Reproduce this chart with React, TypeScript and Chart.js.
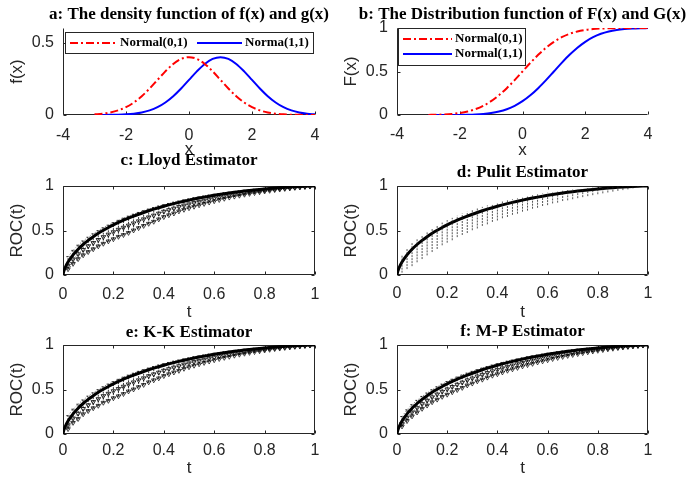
import React, { useEffect, useRef } from "react";
import { Chart, registerables } from "chart.js";
Chart.register(...registerables);

const SANS = "'Liberation Sans', Arial, sans-serif";
const SERIF = "'Liberation Serif', 'Times New Roman', serif";
const AXIS = "#262626";

// ---------- data: panels a & b ----------
const xGrid = [-3, -2.75, -2.5, -2.25, -2, -1.75, -1.5, -1.25, -1, -0.75, -0.5, -0.25, 0, 0.25, 0.5, 0.75, 1, 1.25, 1.5, 1.75, 2, 2.25, 2.5, 2.75, 3, 3.25, 3.5, 3.75, 4];
const densityN01 = [0.0044, 0.0091, 0.0175, 0.0317, 0.054, 0.0863, 0.1295, 0.1826, 0.242, 0.3011, 0.3521, 0.3867, 0.3989, 0.3867, 0.3521, 0.3011, 0.242, 0.1826, 0.1295, 0.0863, 0.054, 0.0317, 0.0175, 0.0091, 0.0044, 0.002, 0.0009, 0.0004, 0.0001];
const densityN11 = [0.0001, 0.0004, 0.0009, 0.002, 0.0044, 0.0091, 0.0175, 0.0317, 0.054, 0.0863, 0.1295, 0.1826, 0.242, 0.3011, 0.3521, 0.3867, 0.3989, 0.3867, 0.3521, 0.3011, 0.242, 0.1826, 0.1295, 0.0863, 0.054, 0.0317, 0.0175, 0.0091, 0.0044];
const cdfN01 = [0.0013, 0.003, 0.0062, 0.0122, 0.0228, 0.0401, 0.0668, 0.1056, 0.1587, 0.2266, 0.3085, 0.4013, 0.5, 0.5987, 0.6915, 0.7734, 0.8413, 0.8944, 0.9332, 0.9599, 0.9772, 0.9878, 0.9938, 0.997, 0.9987, 0.9994, 0.9998, 0.9999, 1.0];
const cdfN11 = [0.0, 0.0001, 0.0002, 0.0006, 0.0013, 0.003, 0.0062, 0.0122, 0.0228, 0.0401, 0.0668, 0.1056, 0.1587, 0.2266, 0.3085, 0.4013, 0.5, 0.5987, 0.6915, 0.7734, 0.8413, 0.8944, 0.9332, 0.9599, 0.9772, 0.9878, 0.9938, 0.997, 0.9987];
const xTicks = [-4, -2, 0, 2, 4];
const densityYTicks = [0, 0.5];
const cdfYTicks = [0, 0.5, 1];

// ---------- data: ROC panels ----------
const tTicks = [0, 0.2, 0.4, 0.6, 0.8, 1];
const rocYTicks = [0, 0.5, 1];
const barT = [0.02, 0.04, 0.06, 0.08, 0.1, 0.12, 0.14, 0.16, 0.18, 0.2, 0.22, 0.24, 0.26, 0.28, 0.3, 0.32, 0.34, 0.36, 0.38, 0.4, 0.42, 0.44, 0.46, 0.48, 0.5, 0.52, 0.54, 0.56, 0.58, 0.6, 0.62, 0.64, 0.66, 0.68, 0.7, 0.72, 0.74, 0.76, 0.78, 0.8, 0.82, 0.84, 0.86, 0.88, 0.9, 0.92, 0.94, 0.96, 0.98];
const barCenter = [0.146, 0.2264, 0.2895, 0.3427, 0.3891, 0.4305, 0.468, 0.5022, 0.5337, 0.5629, 0.5901, 0.6155, 0.6393, 0.6617, 0.6828, 0.7027, 0.7216, 0.7394, 0.7563, 0.7724, 0.7876, 0.8021, 0.8158, 0.8289, 0.8413, 0.8532, 0.8644, 0.8751, 0.8853, 0.895, 0.9041, 0.9128, 0.9211, 0.9289, 0.9363, 0.9433, 0.9498, 0.956, 0.9618, 0.9672, 0.9723, 0.977, 0.9813, 0.9852, 0.9887, 0.9919, 0.9947, 0.997, 0.9989];
const rocT = [0, 0.002, 0.005, 0.01, ...barT, 1];
const rocTrue = [0, 0.0302, 0.0575, 0.0924, ...barCenter, 1];

const lloydDown = [0.08, 0.1, 0.11, 0.12, 0.13, 0.14, 0.145, 0.15, 0.155, 0.16, 0.16, 0.165, 0.165, 0.16, 0.155, 0.15, 0.145, 0.14, 0.13, 0.12, 0.115, 0.11, 0.1, 0.095, 0.09, 0.085, 0.08, 0.075, 0.07, 0.065, 0.06, 0.055, 0.05, 0.047, 0.044, 0.04, 0.037, 0.034, 0.031, 0.028, 0.025, 0.022, 0.02, 0.017, 0.015, 0.012, 0.01, 0.007, 0.004];
const lloydUp = [0.06, 0.05, 0.045, 0.04, 0.035, 0.032, 0.03, 0.028, 0.026, 0.025, 0.024, 0.023, 0.022, 0.021, 0.02, 0.02, 0.019, 0.018, 0.018, 0.017, 0.016, 0.016, 0.015, 0.015, 0.014, 0.014, 0.013, 0.013, 0.012, 0.012, 0.011, 0.011, 0.01, 0.01, 0.009, 0.009, 0.008, 0.008, 0.007, 0.007, 0.006, 0.006, 0.005, 0.005, 0.004, 0.004, 0.003, 0.003, 0.002];
const pulitDown = [0.12, 0.16, 0.19, 0.2, 0.21, 0.21, 0.21, 0.21, 0.2, 0.2, 0.2, 0.19, 0.19, 0.19, 0.18, 0.18, 0.17, 0.17, 0.16, 0.16, 0.15, 0.15, 0.14, 0.14, 0.13, 0.13, 0.12, 0.12, 0.11, 0.11, 0.1, 0.1, 0.09, 0.09, 0.085, 0.08, 0.075, 0.07, 0.065, 0.06, 0.055, 0.05, 0.045, 0.04, 0.035, 0.03, 0.022, 0.015, 0.008];
const pulitUp = [0.08, 0.07, 0.07, 0.065, 0.06, 0.06, 0.058, 0.056, 0.055, 0.054, 0.052, 0.05, 0.05, 0.048, 0.046, 0.045, 0.044, 0.042, 0.04, 0.04, 0.038, 0.037, 0.036, 0.035, 0.034, 0.033, 0.032, 0.031, 0.03, 0.029, 0.028, 0.027, 0.026, 0.025, 0.024, 0.023, 0.022, 0.021, 0.02, 0.019, 0.018, 0.016, 0.014, 0.012, 0.01, 0.008, 0.006, 0.004, 0.002];
const kkDown = [0.09, 0.1, 0.12, 0.12, 0.13, 0.14, 0.15, 0.15, 0.16, 0.16, 0.165, 0.165, 0.16, 0.16, 0.155, 0.15, 0.14, 0.135, 0.13, 0.12, 0.115, 0.11, 0.105, 0.095, 0.09, 0.085, 0.08, 0.075, 0.07, 0.065, 0.06, 0.056, 0.052, 0.048, 0.044, 0.04, 0.037, 0.034, 0.031, 0.028, 0.025, 0.022, 0.02, 0.017, 0.015, 0.012, 0.01, 0.007, 0.004];
const kkUp = [0.06, 0.052, 0.045, 0.04, 0.036, 0.032, 0.03, 0.028, 0.027, 0.025, 0.024, 0.023, 0.022, 0.021, 0.021, 0.02, 0.019, 0.018, 0.018, 0.017, 0.016, 0.016, 0.015, 0.015, 0.014, 0.014, 0.013, 0.013, 0.012, 0.012, 0.011, 0.011, 0.01, 0.01, 0.009, 0.009, 0.008, 0.008, 0.007, 0.007, 0.006, 0.006, 0.005, 0.005, 0.004, 0.004, 0.003, 0.003, 0.002];
const mpDown = [0.06, 0.08, 0.09, 0.1, 0.105, 0.11, 0.11, 0.115, 0.115, 0.12, 0.12, 0.12, 0.12, 0.115, 0.115, 0.11, 0.11, 0.105, 0.1, 0.1, 0.095, 0.09, 0.088, 0.085, 0.08, 0.078, 0.075, 0.07, 0.068, 0.065, 0.06, 0.057, 0.054, 0.05, 0.047, 0.044, 0.04, 0.037, 0.034, 0.031, 0.028, 0.025, 0.022, 0.019, 0.016, 0.013, 0.01, 0.007, 0.004];
const mpUp = [0.05, 0.045, 0.04, 0.035, 0.033, 0.03, 0.029, 0.028, 0.027, 0.026, 0.025, 0.024, 0.023, 0.022, 0.021, 0.02, 0.019, 0.018, 0.018, 0.017, 0.016, 0.016, 0.015, 0.015, 0.014, 0.014, 0.013, 0.013, 0.012, 0.012, 0.011, 0.011, 0.01, 0.01, 0.009, 0.009, 0.008, 0.008, 0.007, 0.007, 0.006, 0.006, 0.005, 0.005, 0.004, 0.004, 0.003, 0.003, 0.002];

// ---------- helpers ----------
const pts = (xs: number[], ys: number[]) => xs.map((x, i) => ({ x, y: ys[i] }));
const lowerOf = (c: number[], d: number[], k = 1) => c.map((v, i) => v - k * d[i]);
const upperOf = (c: number[], u: number[]) => c.map((v, i) => v + u[i]);

function errorBars(ts: number[], center: number[], down: number[], up: number[], cap: number) {
  const out: any[] = [];
  ts.forEach((t, i) => {
    const lo = center[i] - down[i];
    const hi = center[i] + up[i];
    out.push({ x: t, y: lo }, { x: t, y: hi }, { x: t, y: null });
    if (cap > 0) {
      out.push({ x: t - cap, y: lo }, { x: t + cap, y: lo }, { x: t, y: null });
      out.push({ x: t - cap, y: hi }, { x: t + cap, y: hi }, { x: t, y: null });
    }
  });
  return out;
}

const line = (label: string, data: any[], color: string, width: number, dash: number[] = [], smooth = true) => ({
  label,
  data,
  showLine: true,
  borderColor: color,
  backgroundColor: color,
  borderWidth: width,
  borderDash: dash,
  pointRadius: 0,
  pointHoverRadius: 0,
  fill: false,
  cubicInterpolationMode: smooth ? "monotone" : "default",
  tension: 0,
});

const markerLine = (label: string, data: any[], color: string) => ({
  ...line(label, data, color, 1, [1, 2]),
  pointRadius: 2.6,
  pointStyle: "triangle",
  rotation: 180,
  pointBorderColor: color,
  pointBackgroundColor: "rgba(0,0,0,0)",
  pointBorderWidth: 1,
});

function rocDatasets(name: string, down: number[], up: number[], cap: number, barColor: string, barDash: number[], withCurves: boolean) {
  const ds: any[] = [line(name + " bounds", errorBars(barT, barCenter, down, up, cap), barColor, 1, barDash, false)];
  if (withCurves) {
    ds.push(markerLine(name + " lower", pts(barT, lowerOf(barCenter, down)), "rgba(0,0,0,0.7)"));
    ds.push(markerLine(name + " mean", pts(barT, lowerOf(barCenter, down, 0.5)), "rgba(0,0,0,0.8)"));
    ds.push(line(name + " upper", pts(barT, upperOf(barCenter, up)), "rgba(0,0,0,0.6)", 1, [1, 2]));
  }
  ds.push(line("True ROC", pts(rocT, rocTrue), "#000000", 3));
  return ds;
}

// ---------- plugins ----------
const framePlugin = {
  id: "frame",
  beforeDatasetsDraw(chart: any, _a: any, opts: any) {
    const { ctx, chartArea, scales } = chart;
    const L = Math.round(chartArea.left) + 0.5;
    const R = Math.round(chartArea.right) - 0.5;
    const T = Math.round(chartArea.top) + 0.5;
    const B = Math.round(chartArea.bottom) - 0.5;
    const boxed = !!opts.boxed;
    const tl = 3;
    ctx.save();
    ctx.strokeStyle = AXIS;
    ctx.lineWidth = 1;
    ctx.beginPath();
    if (boxed) {
      ctx.rect(L, T, R - L, B - T);
    } else {
      ctx.moveTo(L, T);
      ctx.lineTo(L, B);
      ctx.lineTo(R, B);
    }
    scales.x.ticks.forEach((tk: any) => {
      const px = Math.round(scales.x.getPixelForValue(tk.value)) + 0.5;
      ctx.moveTo(px, B);
      ctx.lineTo(px, B - tl);
      if (boxed) {
        ctx.moveTo(px, T);
        ctx.lineTo(px, T + tl);
      }
    });
    scales.y.ticks.forEach((tk: any) => {
      const py = Math.round(scales.y.getPixelForValue(tk.value)) + 0.5;
      ctx.moveTo(L, py);
      ctx.lineTo(L + tl, py);
      if (boxed) {
        ctx.moveTo(R, py);
        ctx.lineTo(R - tl, py);
      }
    });
    ctx.stroke();
    ctx.restore();
  },
};

const titlePlugin = {
  id: "panelTitle",
  afterDraw(chart: any, _a: any, opts: any) {
    if (!opts || !opts.text) return;
    const { ctx, chartArea } = chart;
    ctx.save();
    ctx.font = `bold ${opts.size}px ${SERIF}`;
    ctx.fillStyle = "#000000";
    ctx.textAlign = "center";
    ctx.textBaseline = "middle";
    ctx.fillText(opts.text, (chartArea.left + chartArea.right) / 2, opts.y);
    ctx.restore();
  },
};

const boxLegendPlugin = {
  id: "boxLegend",
  afterDraw(chart: any, _a: any, opts: any) {
    if (!opts || !opts.items) return;
    const { ctx } = chart;
    const b = opts.box;
    ctx.save();
    ctx.fillStyle = "#ffffff";
    ctx.fillRect(b.x, b.y, b.w, b.h);
    ctx.strokeStyle = AXIS;
    ctx.lineWidth = 1;
    ctx.strokeRect(b.x + 0.5, b.y + 0.5, b.w, b.h);
    opts.items.forEach((it: any, i: number) => {
      const ds = chart.data.datasets[i];
      ctx.strokeStyle = ds.borderColor;
      ctx.lineWidth = ds.borderWidth;
      ctx.setLineDash(ds.borderDash || []);
      ctx.beginPath();
      ctx.moveTo(it.x1, it.y);
      ctx.lineTo(it.x2, it.y);
      ctx.stroke();
      ctx.setLineDash([]);
      ctx.fillStyle = "#000000";
      ctx.font = `bold 13px ${SERIF}`;
      ctx.textAlign = "left";
      ctx.textBaseline = "middle";
      ctx.fillText(ds.label, it.tx, it.y);
    });
    ctx.restore();
  },
};

// ---------- layout ----------
const COLS: any = {
  L: { canvasLeft: 0, width: 345, chartLeft: 63, chartRight: 315, yTitleX: 17 },
  R: { canvasLeft: 335, width: 356, chartLeft: 397, chartRight: 648, yTitleX: 351 },
};
const TOP_GAP = 40;
const X_AXIS_H = 50;

const RED_DASHDOT = [8, 3, 2, 3];

const panels: any[] = [
  {
    key: "a", col: "L", chartTop: 28, chartBottom: 115, titleY: 15, xTickY: 136, xTitleY: 149,
    title: "a: The density function of f(x) and g(x)", xTitle: "x", yTitle: "f(x)",
    xMin: -4, xMax: 4, yMin: 0, yMax: 0.6, xT: xTicks, yT: densityYTicks, boxed: false,
    datasets: [
      line("Normal(0,1)", pts(xGrid, densityN01), "#ff0000", 2, RED_DASHDOT),
      line("Norma(1,1)", pts(xGrid, densityN11), "#0000ff", 2),
    ],
    legend: {
      box: { x: 65, y: 32, w: 248, h: 21 },
      items: [
        { x1: 70, x2: 117, tx: 120, y: 43 },
        { x1: 197, x2: 242, tx: 245, y: 43 },
      ],
    },
  },
  {
    key: "b", col: "R", chartTop: 28, chartBottom: 115, titleY: 15, xTickY: 135, xTitleY: 150,
    title: "b: The Distribution function of F(x) and G(x)", xTitle: "x", yTitle: "F(x)",
    xMin: -4, xMax: 4, yMin: 0, yMax: 1, xT: xTicks, yT: cdfYTicks, boxed: false,
    datasets: [
      line("Normal(0,1)", pts(xGrid, cdfN01), "#ff0000", 2, RED_DASHDOT),
      line("Normal(1,1)", pts(xGrid, cdfN11), "#0000ff", 2),
    ],
    legend: {
      box: { x: 398, y: 28, w: 127, h: 37 },
      items: [
        { x1: 403, x2: 452, tx: 455, y: 39 },
        { x1: 403, x2: 452, tx: 455, y: 54 },
      ],
    },
  },
  {
    key: "c", col: "L", chartTop: 186, chartBottom: 275, titleY: 161, xTickY: 295, xTitleY: 312,
    title: "c: Lloyd Estimator", xTitle: "t", yTitle: "ROC(t)",
    xMin: 0, xMax: 1, yMin: 0, yMax: 1, xT: tTicks, yT: rocYTicks, boxed: true,
    datasets: rocDatasets("Lloyd", lloydDown, lloydUp, 0.007, "rgba(0,0,0,0.8)", [2, 1], true),
  },
  {
    key: "d", col: "R", chartTop: 186, chartBottom: 275, titleY: 173, xTickY: 294, xTitleY: 312,
    title: "d: Pulit Estimator", xTitle: "t", yTitle: "ROC(t)",
    xMin: 0, xMax: 1, yMin: 0, yMax: 1, xT: tTicks, yT: rocYTicks, boxed: true,
    datasets: rocDatasets("Pulit", pulitDown, pulitUp, 0, "rgba(30,30,30,0.75)", [2, 1], false),
  },
  {
    key: "e", col: "L", chartTop: 345, chartBottom: 434, titleY: 333, xTickY: 451, xTitleY: 468,
    title: "e: K-K Estimator", xTitle: "t", yTitle: "ROC(t)",
    xMin: 0, xMax: 1, yMin: 0, yMax: 1, xT: tTicks, yT: rocYTicks, boxed: true,
    datasets: rocDatasets("K-K", kkDown, kkUp, 0.007, "rgba(0,0,0,0.8)", [2, 1], true),
  },
  {
    key: "f", col: "R", chartTop: 345, chartBottom: 434, titleY: 332, xTickY: 451, xTitleY: 468,
    title: "f: M-P Estimator", xTitle: "t", yTitle: "ROC(t)",
    xMin: 0, xMax: 1, yMin: 0, yMax: 1, xT: tTicks, yT: rocYTicks, boxed: true,
    datasets: rocDatasets("M-P", mpDown, mpUp, 0.007, "rgba(0,0,0,0.8)", [2, 1], true),
  },
];

function geometry(p: any) {
  const c = COLS[p.col];
  const canvasTop = p.chartTop - TOP_GAP;
  const height = p.chartBottom - p.chartTop + TOP_GAP + X_AXIS_H;
  return { ...c, canvasTop, height };
}

function buildConfig(p: any): any {
  const g = geometry(p);
  const yW = g.chartLeft - g.canvasLeft;
  const padRight = g.canvasLeft + g.width - g.chartRight;
  const tickFont = { family: SANS, size: 16 };
  const titleFont = { family: SANS, size: 17 };
  const legendOpts = p.legend
    ? {
        box: { x: p.legend.box.x - g.canvasLeft, y: p.legend.box.y - g.canvasTop, w: p.legend.box.w, h: p.legend.box.h },
        items: p.legend.items.map((it: any) => ({
          x1: it.x1 - g.canvasLeft, x2: it.x2 - g.canvasLeft, tx: it.tx - g.canvasLeft, y: it.y - g.canvasTop,
        })),
      }
    : {};
  return {
    type: "scatter",
    data: { datasets: p.datasets },
    plugins: [framePlugin, titlePlugin, boxLegendPlugin],
    options: {
      responsive: false,
      animation: false,
      events: [],
      layout: { padding: { top: TOP_GAP, right: padRight, bottom: 0, left: 0 } },
      plugins: {
        legend: { display: false },
        tooltip: { enabled: false },
        title: { display: false },
        frame: { boxed: p.boxed },
        panelTitle: { text: p.title, y: p.titleY - g.canvasTop, size: 17 },
        boxLegend: legendOpts,
      },
      scales: {
        x: {
          type: "linear",
          min: p.xMin,
          max: p.xMax,
          afterBuildTicks: (s: any) => { s.ticks = p.xT.map((v: number) => ({ value: v })); },
          afterFit: (s: any) => { s.height = X_AXIS_H; },
          grid: { display: false, drawTicks: false },
          border: { display: false },
          ticks: {
            autoSkip: false, maxRotation: 0, minRotation: 0,
            padding: p.xTickY - p.chartBottom - 9.6,
            color: AXIS, font: tickFont,
            callback: (v: any) => String(v),
          },
          title: {
            display: true, text: p.xTitle, color: AXIS, font: titleFont,
            padding: { top: 0, bottom: p.chartBottom + X_AXIS_H - p.xTitleY - 10.2 },
          },
        },
        y: {
          type: "linear",
          min: p.yMin,
          max: p.yMax,
          afterBuildTicks: (s: any) => { s.ticks = p.yT.map((v: number) => ({ value: v })); },
          afterFit: (s: any) => { s.width = yW; },
          grid: { display: false, drawTicks: false },
          border: { display: false },
          ticks: {
            autoSkip: false, padding: 9, color: AXIS, font: tickFont,
            callback: (v: any) => String(v),
          },
          title: {
            display: true, text: p.yTitle, color: AXIS, font: titleFont,
            padding: { top: g.yTitleX - g.canvasLeft - 10.2, bottom: 0 },
          },
        },
      },
    },
  };
}

function Panel({ p }: { p: any }) {
  const ref = useRef<HTMLCanvasElement | null>(null);
  const g = geometry(p);
  useEffect(() => {
    if (!ref.current) return;
    const chart = new Chart(ref.current, buildConfig(p));
    return () => chart.destroy();
  }, []);
  return (
    <canvas
      ref={ref}
      width={g.width}
      height={g.height}
      style={{ position: "absolute", left: g.canvasLeft, top: g.canvasTop, width: g.width, height: g.height }}
    />
  );
}

export default function App() {
  return (
    <div style={{ position: "absolute", left: 0, top: 0, width: 691, height: 488, overflow: "hidden", background: "#ffffff" }}>
      {panels.map((p) => (
        <Panel key={p.key} p={p} />
      ))}
    </div>
  );
}
